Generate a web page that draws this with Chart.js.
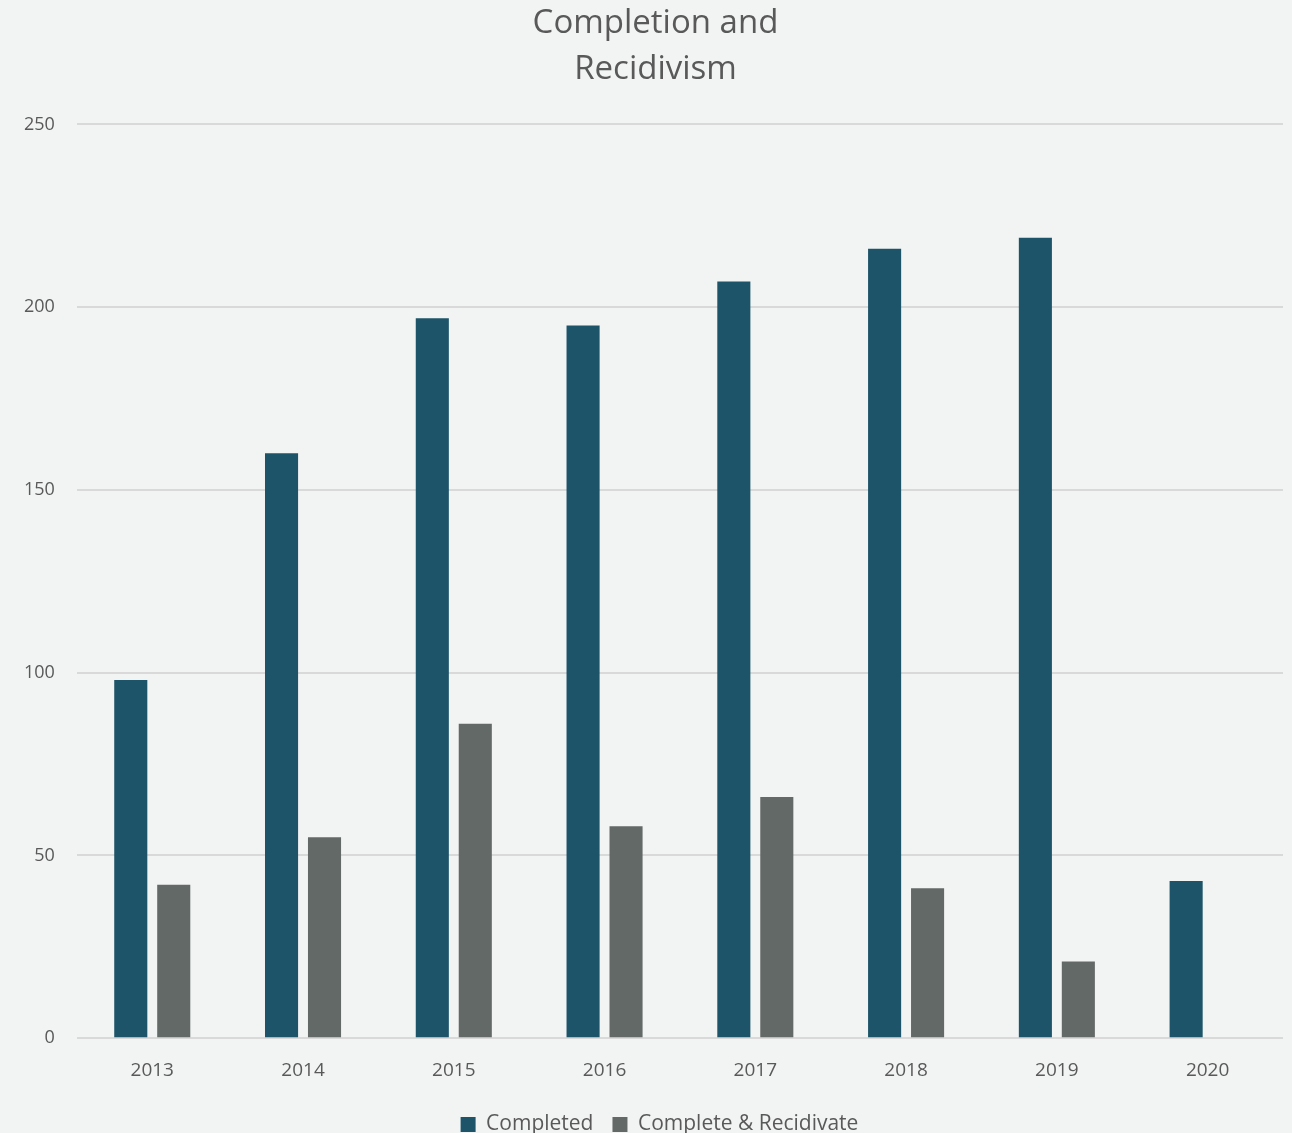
<!DOCTYPE html>
<html>
<head>
<meta charset="utf-8">
<script src="https://cdn.jsdelivr.net/npm/chart.js@4/dist/chart.umd.min.js"></script>
<style>
  html, body { margin: 0; padding: 0; background: #f2f4f3; }
  #wrap { width: 1292px; height: 1133px; }
</style>
</head>
<body>
<div id="wrap"><canvas id="chart"></canvas></div>
<script>
const years = ['2013', '2014', '2015', '2016', '2017', '2018', '2019', '2020'];
const completed = [98, 160, 197, 195, 207, 216, 219, 43];
const recidivate = [42, 55, 86, 58, 66, 41, 21, null];
const yTicks = [0, 50, 100, 150, 200, 250];

const textColor = '#595959';
const font = "'Open Sans', 'Noto Sans', sans-serif";

// title and legend sit a bit right of the canvas centre in the original
const nudge = {
    id: 'nudge',
    afterLayout(chart) {
        if (chart.titleBlock) {
            chart.titleBlock.left += 13;
            chart.titleBlock.right += 13;
        }
        if (chart.legend) {
            chart.legend.left += 17;
            chart.legend.right += 17;
        }
    }
};

new Chart(document.getElementById('chart'), {
    type: 'bar',
    data: {
        labels: years,
        datasets: [
            {
                label: 'Completed',
                data: completed,
                backgroundColor: '#1d5469',
                borderWidth: 0,
                categoryPercentage: 0.57,
                barPercentage: 0.77
            },
            {
                label: 'Complete & Recidivate',
                data: recidivate,
                backgroundColor: '#636966',
                borderWidth: 0,
                categoryPercentage: 0.57,
                barPercentage: 0.77
            }
        ]
    },
    options: {
        responsive: true,
        maintainAspectRatio: false,
        animation: false,
        layout: { padding: { left: 2, right: 9, top: 0, bottom: -12 } },
        scales: {
            x: {
                grid: { display: false },
                border: { display: false },
                ticks: { color: textColor, font: { family: font, size: 19 }, padding: 13 }
            },
            y: {
                min: 0,
                max: 250,
                afterBuildTicks: axis => { axis.ticks = yTicks.map(v => ({ value: v })); },
                grid: { color: '#d9d9d9', lineWidth: 2, drawTicks: false },
                border: { display: false },
                ticks: { color: textColor, font: { family: font, size: 18 }, padding: 22 }
            }
        },
        plugins: {
            title: {
                display: true,
                text: ['Completion and', 'Recidivism'],
                color: textColor,
                font: { family: font, size: 33, weight: 'normal', lineHeight: 1.4 },
                padding: { top: 0, bottom: 32 }
            },
            legend: {
                position: 'bottom',
                labels: {
                    color: textColor,
                    font: { family: font, size: 21 },
                    boxWidth: 15,
                    boxHeight: 15,
                    padding: 19
                }
            },
            tooltip: { enabled: false }
        }
    },
    plugins: [nudge]
});
</script>
</body>
</html>
